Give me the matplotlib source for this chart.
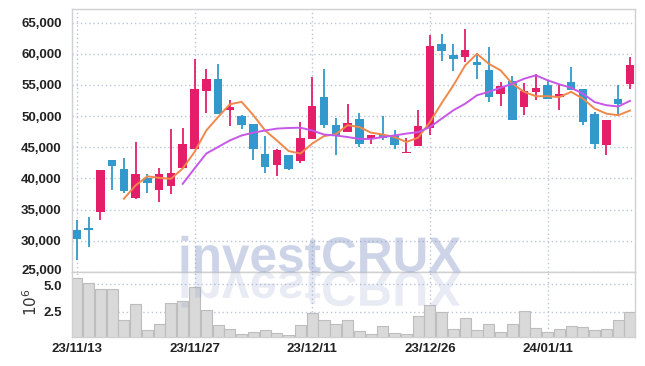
import numpy as np
import matplotlib
matplotlib.use("Agg")
import matplotlib.pyplot as plt
from matplotlib.textpath import TextPath
from matplotlib.patches import PathPatch
from matplotlib.font_manager import FontProperties
from matplotlib.transforms import Affine2D, IdentityTransform, ScaledTranslation

# daily OHLC (KRW)
opens = [31800, 32000, 34600, 42900, 41450, 36800, 40000, 38100, 38800, 41700,
         44700, 54050, 56000, 51000, 49950, 48700, 44000, 42150, 43700, 42800,
         46350, 53150, 48650, 47500, 49500, 46500, 46900, 46800, 44100, 45200,
         48150, 61650, 59750, 59500, 58650, 57350, 53550, 55600, 51450, 53900,
         54950, 53050, 55450, 54300, 50400, 45450, 52700, 55200]
closes = [30300, 31750, 41400, 42000, 37950, 40650, 39300, 40650, 40850, 45600,
          54400, 56000, 50350, 51500, 48600, 44750, 41850, 44500, 41500, 46450,
          51700, 48600, 46800, 48950, 45600, 46900, 46500, 45350, 44300, 48450,
          61200, 60450, 59150, 60550, 58250, 53050, 54800, 49450, 54000, 54450,
          52750, 53600, 54250, 49050, 45600, 49350, 51900, 58150]
highs = [33400, 33800, 41400, 43000, 43350, 45900, 40800, 41750, 47900, 48150,
         59150, 57600, 58400, 52550, 50250, 48700, 46750, 44750, 43700, 49050,
         56200, 57600, 49750, 52000, 50500, 46950, 50050, 47850, 46550, 51050,
         62950, 63250, 61650, 63900, 60050, 61100, 55500, 56400, 55300, 56700,
         55750, 55200, 57900, 54300, 50650, 49350, 55050, 59500]
lows = [26850, 29000, 33400, 38200, 37650, 36700, 37650, 36300, 37550, 41700,
        44700, 50500, 50350, 48450, 48000, 42900, 40950, 40400, 41300, 42550,
        46350, 48050, 43800, 47500, 45050, 45600, 46250, 44800, 44100, 45200,
        46900, 58800, 57200, 58700, 56000, 52250, 51700, 49450, 50150, 52550,
        52750, 50950, 54250, 48550, 44800, 43700, 50150, 54400]
# volume in millions of shares
volume = [5.55, 5.09, 4.54, 4.54, 1.74, 3.17, 0.79, 1.34, 3.26, 3.48,
          4.73, 2.62, 1.25, 0.88, 0.43, 0.61, 0.79, 0.52, 0.34, 1.25,
          2.35, 1.74, 1.34, 1.71, 0.73, 0.43, 1.16, 0.55, 0.43, 2.07,
          3.11, 2.47, 0.91, 1.92, 0.79, 1.34, 0.61, 1.34, 2.53, 1.01,
          0.61, 0.91, 1.16, 1.10, 0.79, 0.91, 1.74, 2.47]
# 5-day and 10-day moving averages as drawn
ma5 = [36750, 38900, 40350, 40100, 39950, 41600, 44250, 47700, 49850, 51900,
       52300, 50150, 47700, 46100, 44400, 44000, 45600, 46800, 47100, 48550,
       48250, 47350, 47050, 46650, 45850, 46550, 49050, 52100, 54950, 58150,
       60000, 58400, 57350, 55200, 53900, 53200, 53200, 53050, 53900, 52800,
       51200, 50400, 50150, 50900]
ma10 = [39150, 41600, 44000, 45050, 46100, 46900, 47350, 47700, 48000, 48100,
        48150, 47700, 47050, 46900, 46650, 46350, 46350, 46650, 46900, 47200,
        47450, 48250, 49600, 50950, 52000, 53350, 53900, 54550, 55200, 56000,
        56550, 55750, 55100, 54550, 53600, 52250, 51750, 51550, 52450]
tick_idx = [0, 10, 20, 30, 40]
tick_labels = ['23/11/13', '23/11/27', '23/12/11', '23/12/26', '24/01/11']

up_col = '#e51e6a'
down_col = '#3399cc'
grid_col = '#bcc5da'
spine_col = '#d0d0d0'
lbl_font = ['Liberation Sans', 'DejaVu Sans']

n = len(closes)
x = np.arange(n)
o = np.array(opens)
c = np.array(closes)
colors = [up_col if c[i] >= o[i] else down_col for i in range(n)]

W, H = 645, 366
fig = plt.figure(figsize=(W / 100, H / 100), dpi=100)
L, R = 71.5, 635.3
ax = fig.add_axes([L / W, 1 - 272 / H, (R - L) / W, (272 - 9.3) / H])
axv = fig.add_axes([L / W, 1 - 337.3 / H, (R - L) / W, (337.3 - 272) / H], sharex=ax)

# candles
ax.vlines(x, lows, highs, colors=colors, lw=1.3, zorder=3)
body_lo = np.minimum(o, c)
body_h = np.maximum(np.abs(c - o), 180)
ax.bar(x, body_h, bottom=body_lo, width=0.72, color=colors, zorder=4)

# moving averages
ax.plot(x[4:], ma5, color='#f0884a', lw=1.4, zorder=5)
ax.plot(x[9:], ma10, color='#c757e8', lw=1.4, zorder=5)

ax.set_xlim(-0.45, n - 1 + 0.45)
ax.set_ylim(25000, 67140)
ax.set_yticks(np.arange(25000, 65001, 5000))
ax.set_yticklabels(['{:,}'.format(v) for v in range(25000, 65001, 5000)])
ax.set_xticks(tick_idx)
ax.tick_params(axis='x', labelbottom=False, length=0)
ax.tick_params(axis='y', length=0, pad=7, labelsize=9.5, labelcolor='#222222')
ax.grid(True, ls=(0, (1, 2)), color=grid_col, lw=1)
ax.set_axisbelow(True)

# volume
axv.bar(x, volume, width=0.94, color='#d9d9d9', edgecolor='#bdbdbd', lw=0.8, zorder=2)
axv.set_ylim(0.16, 6.12)
axv.set_yticks([2.5, 5.0])
axv.set_yticklabels(['2.5', '5.0'])
axv.set_xticks(tick_idx)
axv.set_xticklabels(tick_labels)
axv.tick_params(axis='both', length=0, labelsize=9.5, labelcolor='#222222')
axv.tick_params(axis='y', pad=7)
axv.tick_params(axis='x', pad=4)
axv.grid(True, ls=(0, (1, 2)), color=grid_col, lw=1)
axv.set_axisbelow(True)

for a in (ax, axv):
    for s in a.spines.values():
        s.set_color(spine_col)
        s.set_linewidth(1)
    for t in a.get_xticklabels() + a.get_yticklabels():
        t.set_family(lbl_font)
        t.set_fontweight('bold')

# keep the 25,000 and 5.0 labels from touching
lab25 = ax.get_yticklabels()[0]
lab25.set_transform(lab25.get_transform() + ScaledTranslation(0, 2 / 72, fig.dpi_scale_trans))
lab5 = axv.get_yticklabels()[1]
lab5.set_transform(lab5.get_transform() + ScaledTranslation(0, -1 / 72, fig.dpi_scale_trans))

fig.text(31 / W, 1 - 302 / H, r'$10^6$', rotation=90, ha='center', va='center',
         fontsize=11, color='#333333')

# watermark with reflection
fp = FontProperties(family='Liberation Sans', weight='bold')
tp = TextPath((0, 0), 'investCRUX', size=49.5, prop=fp)
x0, base = 178, H - 271.7
wm = PathPatch(tp, transform=Affine2D().translate(x0, base) + IdentityTransform(),
               facecolor=(0.51, 0.58, 0.78), edgecolor='none', alpha=0.4, zorder=10)
refl = PathPatch(tp, transform=Affine2D().scale(1, -1).translate(x0, base) + IdentityTransform(),
                 facecolor=(0.51, 0.58, 0.78), edgecolor='none', alpha=0.18, zorder=10)
fig.add_artist(wm)
fig.add_artist(refl)

fig.savefig('out.png', dpi=100)
